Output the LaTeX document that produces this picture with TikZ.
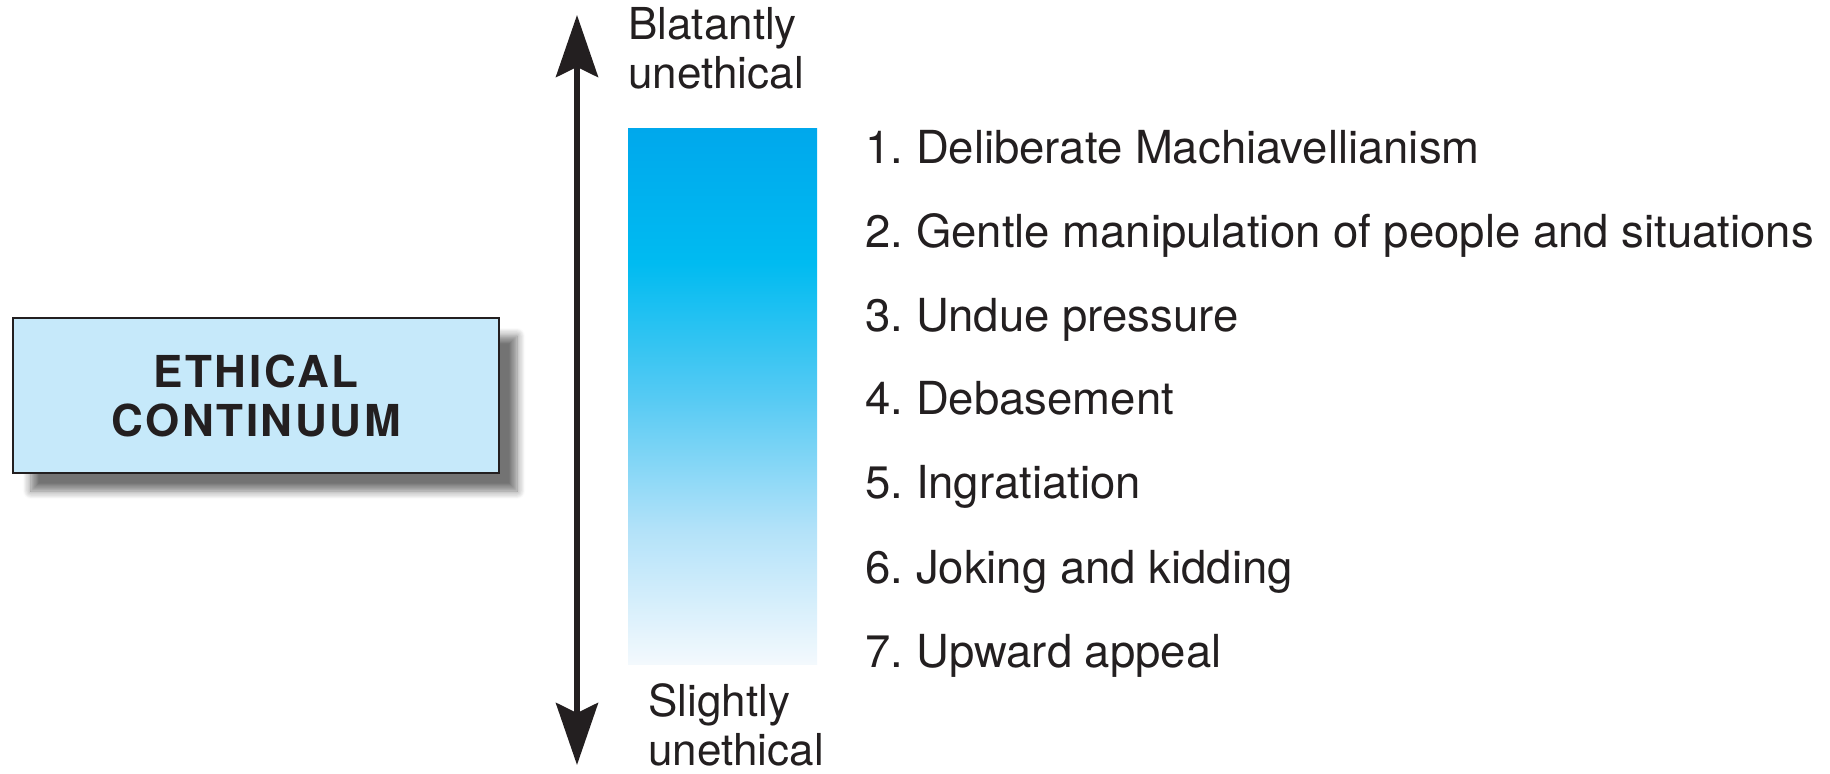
\documentclass[tikz,border=0pt]{standalone}
\usepackage{fontspec}
\setmainfont{TeX Gyre Heros}
\newfontfamily\boxfont[LetterSpace=6]{TeX Gyre Heros}
\usetikzlibrary{arrows.meta,shadows.blur}
\frenchspacing
\definecolor{ink}{HTML}{231F20}
\definecolor{boxblue}{HTML}{C6E9FA}
\definecolor{shadowgrey}{HTML}{8C8D8F}
\definecolor{barbottom}{HTML}{F3F9FD}
\definecolor{barlow}{HTML}{B3E2F9}
\definecolor{barmid}{HTML}{55CAF3}
\definecolor{barhigh}{HTML}{00BBF1}
\definecolor{bartop}{HTML}{00A8EC}
\pgfdeclareverticalshading{barfade}{100bp}{color(0bp)=(barbottom); color(25bp)=(barbottom); color(37.5bp)=(barlow); color(50bp)=(barmid); color(62.5bp)=(barhigh); color(75bp)=(bartop); color(100bp)=(bartop)}
\tikzset{
  titlebox/.style={draw=ink, line width=1pt, fill=boxblue, text=ink,
    minimum width=243pt, minimum height=77.5pt, align=center,
    font=\boxfont\bfseries\fontsize{22}{24.5}\selectfont,
    blur shadow={shadow xshift=9pt, shadow yshift=-9pt, shadow blur radius=4pt,
      shadow blur steps=8, shadow opacity=55}},
  scalebar/.style={shade, shading=barfade, minimum width=94.5pt, minimum height=267.5pt, inner sep=0},
  endlabel/.style={anchor=base west, align=left, inner sep=0, text=ink,
    font=\fontsize{22}{24.5}\selectfont},
  tactic/.style={anchor=base west, inner sep=0, text=ink,
    font=\fontsize{22.75}{27}\selectfont},
  twoway/.style={{Stealth[length=31pt,width=21pt,inset=5pt]}-{Stealth[length=31pt,width=21pt,inset=5pt]},
    line width=3pt, draw=ink}
}
\begin{document}
\begin{tikzpicture}[x=0.5pt,y=-0.5pt]
  \useasboundingbox (0,0) rectangle (1830,774);
  % left box
  \node[titlebox] (ethic) at (256,395.5) {ETHICAL\\CONTINUUM};
  % scale arrow
  \coordinate (up) at (577,15);
  \coordinate (down) at (577,765);
  \draw[twoway] (down) -- (up);
  \node[endlabel] (blatant) at (628,89) {Blatantly\\unethical};
  \node[endlabel] (slight) at (648,765) {Slightly\\unethical};
  % shaded bar
  \node[scalebar] (bar) at (722.5,396.5) {};
  % tactics
  \node[tactic] (t1) at (865,164) {1. Deliberate Machiavellianism};
  \node[tactic] (t2) at (865,248) {2. Gentle manipulation of people and situations};
  \node[tactic] (t3) at (865,332) {3. Undue pressure};
  \node[tactic] (t4) at (865,415) {4. Debasement};
  \node[tactic] (t5) at (865,499) {5. Ingratiation};
  \node[tactic] (t6) at (865,583) {6. Joking and kidding};
  \node[tactic] (t7) at (865,667) {7. Upward appeal};
\end{tikzpicture}
\end{document}
